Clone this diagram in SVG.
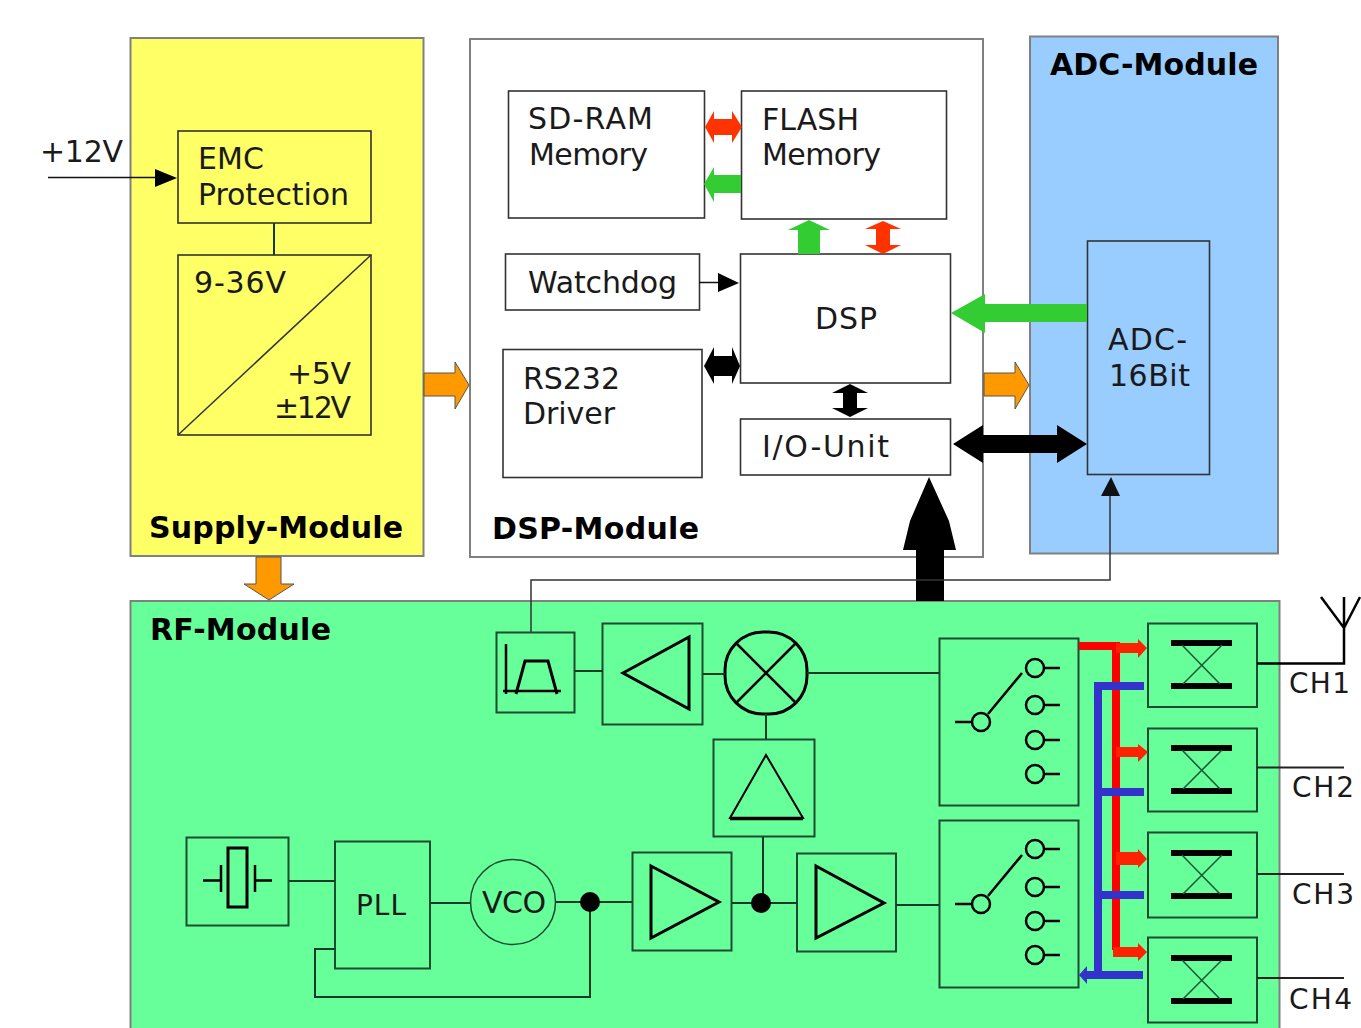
<svg xmlns="http://www.w3.org/2000/svg" width="1361" height="1028" viewBox="0 0 1361 1028">
<style>
text{font-family:"DejaVu Sans",Verdana,sans-serif;font-size:30px;fill:#1a1a1a}
.b{font-weight:bold;fill:#000}
.m{stroke:#808080;stroke-width:2}
.box{fill:#fff;stroke:#333;stroke-width:1.6}
.g{fill:#66FF99;stroke:#1f4a30;stroke-width:2}
.l{fill:none;stroke:#1a3a28;stroke-width:2}
.t{fill:none;stroke:#000;stroke-width:3}
.bar{stroke:#000;stroke-width:6}
.x{stroke:#1f5a38;stroke-width:1.6}
.red{fill:#FF3300}.grn{fill:#33CC33}.org{fill:#FF9900;stroke:#555;stroke-width:1}.blk{fill:#000}
</style>
<rect width="1361" height="1028" fill="#fff"/>
<g id="supply-module"><rect class="m" x="130.500" y="38" width="293" height="518" fill="#FFFF66"/><text class="b" x="149" y="538" textLength="254">Supply-Module</text></g>
<g id="dsp-module"><rect class="m" x="470" y="39" width="513" height="518" fill="#fff"/><text class="b" x="492" y="539" textLength="207">DSP-Module</text></g>
<g id="adc-module"><rect class="m" x="1030" y="36.500" width="248" height="517" fill="#99CCFF"/><text class="b" x="1050" y="75" textLength="208">ADC-Module</text></g>
<g id="rf-module"><rect class="m" x="130.500" y="601" width="1149" height="440" fill="#66FF99"/><text class="b" x="150" y="640" textLength="181">RF-Module</text></g>

<g id="emc"><rect class="box" x="178" y="131" width="193" height="92" style="fill:#FFFF66"/><text x="198" y="169" textLength="66">EMC</text><text x="198" y="205" textLength="151">Protection</text></g>
<g id="converter"><rect class="box" x="178" y="255" width="193" height="180" style="fill:#FFFF66"/><line x1="178" y1="435" x2="371" y2="255" stroke="#333" stroke-width="1.500"/><text x="194" y="293" textLength="92">9-36V</text><text x="287" y="384" textLength="64">+5V</text><text x="274" y="418" textLength="77">±12V</text></g>
<g id="sdram"><rect class="box" x="508.500" y="91" width="196" height="127"/><text x="528" y="129" textLength="125">SD-RAM</text><text x="529" y="165" textLength="119">Memory</text></g>
<g id="flash"><rect class="box" x="741.500" y="91" width="205" height="128"/><text x="762" y="130" textLength="97">FLASH</text><text x="762" y="165" textLength="119">Memory</text></g>
<g id="watchdog"><rect class="box" x="505.500" y="254" width="194" height="56"/><text x="528" y="293" textLength="149">Watchdog</text></g>
<g id="dsp"><rect class="box" x="740.500" y="254" width="210" height="129"/><text x="815" y="329" textLength="62">DSP</text></g>
<g id="rs232"><rect class="box" x="503" y="349.500" width="199" height="128"/><text x="523" y="389" textLength="97">RS232</text><text x="523" y="424" textLength="92">Driver</text></g>
<g id="io-unit"><rect class="box" x="740.500" y="419" width="210" height="56"/><text x="762" y="457" textLength="127">I/O-Unit</text></g>
<g id="adc"><rect class="box" x="1087.500" y="241" width="122" height="233.500" style="fill:#99CCFF"/><text x="1108" y="350" textLength="79">ADC-</text><text x="1109" y="386" textLength="81">16Bit</text></g>

<g id="label-12v"><text x="40" y="162" textLength="83">+12V</text></g>

<g id="bandpass"><rect class="g" x="496.500" y="632.500" width="78" height="80"/><path d="M506 644V694M503 691H561" class="l" style="stroke:#000;stroke-width:2.500"/><path d="M516 694L525 661H548L557 694" class="t"/></g>
<g id="amp-rx"><rect class="g" x="602.500" y="623.500" width="100" height="101"/><path d="M623 673L689 637V709Z" class="t"/></g>
<g id="mixer"><rect x="725" y="632" width="82" height="82" rx="38" fill="#66FF99" stroke="#000" stroke-width="3"/><path d="M737 644L795 702M795 644L737 702" class="t" style="stroke-width:2.500"/></g>
<g id="amp-lo"><rect class="g" x="713.500" y="739.500" width="101" height="97"/><path d="M766 755L803 818H730Z" class="t" style="stroke-width:2"/><line x1="730" y1="818.500" x2="803" y2="818.500" stroke="#000" stroke-width="3.500"/></g>
<g id="crystal"><rect class="g" x="186.500" y="837.500" width="102" height="88"/><path d="M203 880.500H221M221 865V892M255 865V892M255 880.500H272" class="t" style="stroke-width:2.500"/><rect x="228" y="848" width="19" height="59" fill="none" stroke="#000" stroke-width="3"/></g>
<g id="pll"><rect class="g" x="335" y="841.500" width="95" height="127"/><text x="356" y="915" textLength="50" style="font-size:28px">PLL</text></g>
<g id="vco"><circle class="g" cx="513" cy="902" r="42.500" style="stroke-width:1.500"/><text x="482" y="913" textLength="64">VCO</text></g>
<g id="amp-1"><rect class="g" x="632.500" y="852.500" width="99" height="98"/><path d="M651 866L719 902L651 938Z" class="t"/></g>
<g id="amp-2"><rect class="g" x="797" y="853.500" width="99" height="98"/><path d="M816 866L884 903L816 938Z" class="t"/></g>
<g id="switch-1"><rect class="g" x="939.500" y="638.500" width="139" height="167"/><path d="M955 722H972M988 714L1022 673M1044 668H1060M1044 705H1060M1044 740H1060M1044 774H1060" class="t" style="stroke-width:2.500"/><circle cx="981" cy="722" r="9" class="t" style="stroke-width:2.500"/><circle cx="1035" cy="668" r="9" class="t" style="stroke-width:2.500"/><circle cx="1035" cy="705" r="9" class="t" style="stroke-width:2.500"/><circle cx="1035" cy="740" r="9" class="t" style="stroke-width:2.500"/><circle cx="1035" cy="774" r="9" class="t" style="stroke-width:2.500"/></g>
<g id="switch-2"><rect class="g" x="939.500" y="820.500" width="139" height="167"/><path d="M955 904H972M988 896L1022 855M1044 849H1060M1044 887H1060M1044 921H1060M1044 955H1060" class="t" style="stroke-width:2.500"/><circle cx="981" cy="904" r="9" class="t" style="stroke-width:2.500"/><circle cx="1035" cy="849" r="9" class="t" style="stroke-width:2.500"/><circle cx="1035" cy="887" r="9" class="t" style="stroke-width:2.500"/><circle cx="1035" cy="921" r="9" class="t" style="stroke-width:2.500"/><circle cx="1035" cy="955" r="9" class="t" style="stroke-width:2.500"/></g>
<g id="filter-1"><rect class="g" x="1148" y="623.500" width="109" height="83.500"/><path class="bar" d="M1171 643H1232M1171 686H1232"/><path class="x" d="M1182 645L1220 684M1222 645L1183 684"/></g>
<g id="filter-2"><rect class="g" x="1148" y="728.500" width="109" height="83"/><path class="bar" d="M1171 748H1232M1171 791H1232"/><path class="x" d="M1182 750L1220 789M1222 750L1183 789"/></g>
<g id="filter-3"><rect class="g" x="1148" y="832.500" width="109" height="85"/><path class="bar" d="M1171 853H1232M1171 896H1232"/><path class="x" d="M1182 855L1220 894M1222 855L1183 894"/></g>
<g id="filter-4"><rect class="g" x="1148" y="937.500" width="109" height="85"/><path class="bar" d="M1171 958H1232M1171 1001H1232"/><path class="x" d="M1182 960L1220 999M1222 960L1183 999"/></g>
<g id="channels"><text x="1289" y="693" textLength="61" style="font-size:28px">CH1</text><text x="1292" y="797" textLength="62" style="font-size:28px">CH2</text><text x="1292" y="904" textLength="62" style="font-size:28px">CH3</text><text x="1289" y="1009" textLength="63" style="font-size:28px">CH4</text></g>

<g id="connectors">
<path d="M48 177.500H160" stroke="#111" stroke-width="1.500" fill="none"/><path d="M155 169L177 178L155 187Z" class="blk"/>
<path d="M274 223V255" class="l"/>
<path d="M699 282.500H720" stroke="#111" stroke-width="1.500" fill="none"/><path d="M718 273L739 283L718 292Z" class="blk"/>
<path class="red" d="M705 127L714 111V119H732V111L742 127L732 143V135H714V143Z"/>
<path class="grn" d="M704 184L714 167V175H741V193H714V202Z"/>
<path class="grn" d="M809 220L830 230H820V254H798V230H788Z"/>
<path class="red" d="M883 221L901 229H890V245H901L883 254L865 245H876V229H865Z"/>
<path class="blk" d="M704 366L714 347V356H732V347L740 366L732 384V376H714V384Z"/>
<path class="blk" d="M850 384L868 393H857V408H868L850 417L832 408H843V393H832Z"/>
<path class="org" d="M424 373H455V362L469 385L455 409V396H424Z"/>
<path class="org" d="M984 373H1015V362L1029 385L1015 409V396H984Z"/>
<path class="org" d="M256 557H281V584H294L269 600L244 584H256Z"/>
<path class="grn" d="M951 313L985 294V304H1087V322H985V333Z"/>
<path class="blk" d="M953 444L983 425V435H1057V425L1087 444L1057 463V453H983V463Z"/>
<path class="blk" d="M929 477L949 521L956 550H944V601H916V550H903L910 521Z"/>
<path d="M531 632V580H1110V495" fill="none" stroke="#333" stroke-width="1.500"/><path d="M1101 496L1111 477L1120 496Z" fill="#111"/>
<path class="l" d="M574 671H603M703 674H725M807 673H939M766 714V739M763 837V903M289 881H335M430 903H470M556 902H632M732 903H797M896 905H939M335 949H315V997H590V902"/>
<circle cx="590" cy="902" r="10" fill="#000"/><circle cx="761" cy="903" r="10" fill="#000"/>
<path d="M1257 663.500H1344V597M1321 597L1344 628L1360 597" fill="none" stroke="#000" stroke-width="2.500"/>
<path d="M1257 767.500H1344M1257 874H1344M1257 978H1344" fill="none" stroke="#222" stroke-width="2"/>
<path d="M1079 646H1116V950" fill="none" stroke="#FF0000" stroke-width="8"/>
<path fill="#FF2200" d="M1116 643H1138V639L1147 648L1138 658V653H1116ZM1116 747H1138V744L1148 752L1138 762V757H1116ZM1116 852H1138V849L1147 859L1138 868V865H1116ZM1113 947H1138V943L1147 952L1138 961V957H1113Z"/>
<path d="M1144 686H1098V975M1098 792H1144M1098 895H1144M1143 975H1085" fill="none" stroke="#3333CC" stroke-width="8"/>
<path d="M1079 975L1087 966V984Z" fill="#3333CC"/>
</g>
</svg>
